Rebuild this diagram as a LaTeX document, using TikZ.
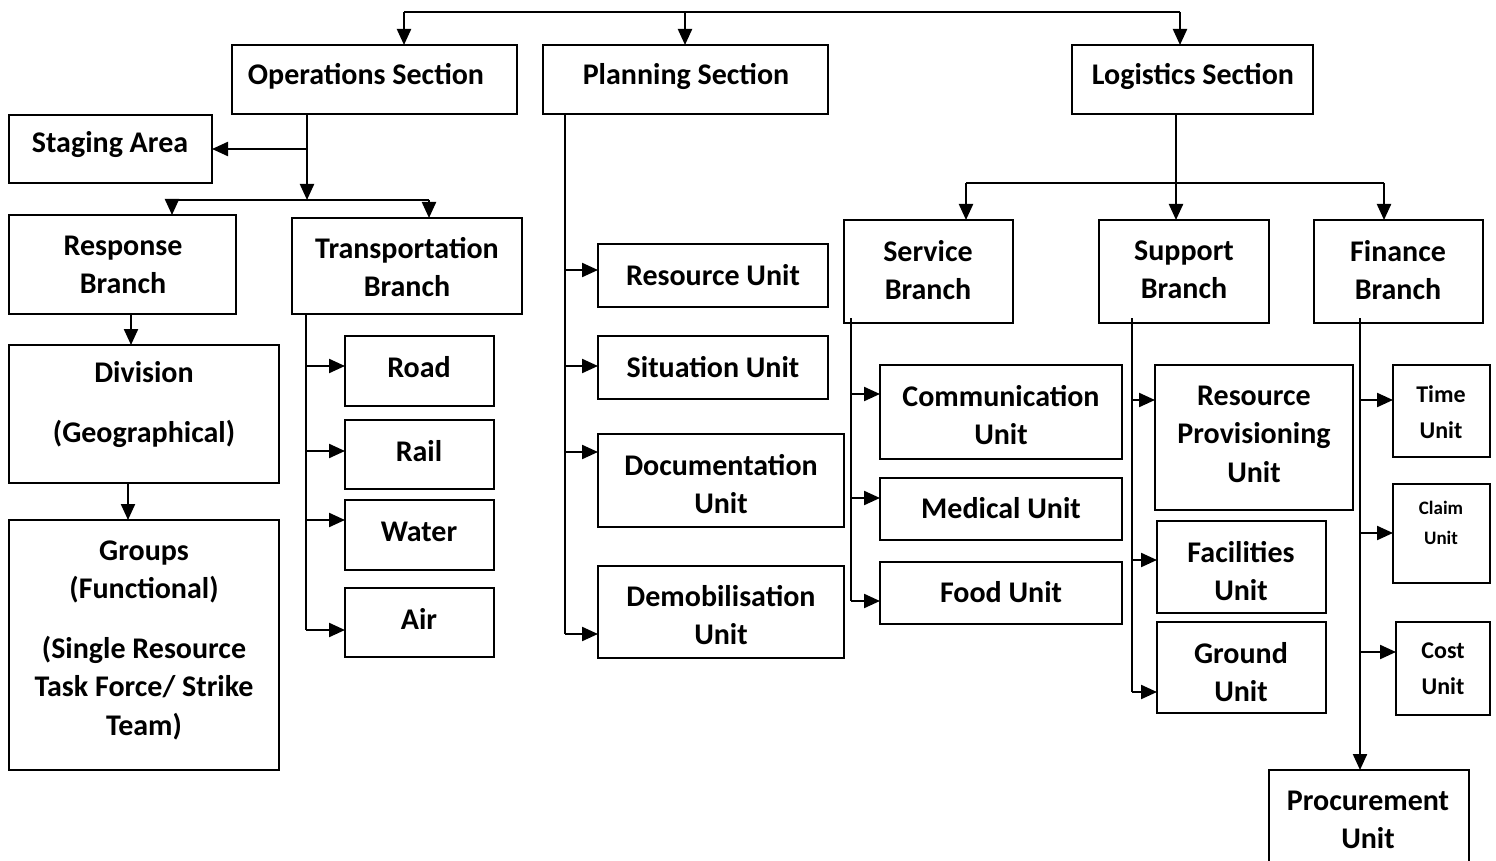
\documentclass[tikz,border=0pt]{standalone}
\usepackage{fontspec}
\setmainfont{Carlito}
\usetikzlibrary{arrows.meta}
\newcommand\fs{\fontsize{30}{38.5}\selectfont\bfseries}
\newcommand\bx[5]{\node[box, minimum width={(#4-#2)*1pt}, minimum height={(#5-#3)*1pt}] (#1) at ({(#2+#4)/2},{(#3+#5)/2}) {};}
\newcommand\tx[4]{\node[txt] (#1) at (#2,#3) {#4};}
\tikzset{
  box/.style={draw, line width=2.3pt, inner sep=0pt, outer sep=0pt},
  ln/.style={line width=2.2pt},
  arr/.style={line width=2.2pt, -{Triangle[length=16pt,width=14pt]}},
  txt/.style={font=\fs, align=center, inner sep=0pt}
}
\begin{document}
\begin{tikzpicture}[x=1pt,y=-1pt]
\useasboundingbox (0,0) rectangle (1496,861);
% boxes
\bx{ops}{232}{45}{517}{114}
\bx{plan}{543}{45}{828}{114}
\bx{log}{1072}{45}{1313}{114}
\bx{stg}{9}{115}{212}{183}
\bx{resp}{9}{215}{236}{314}
\bx{trans}{292}{218}{522}{314}
\bx{div}{9}{345}{279}{483}
\bx{grp}{9}{520}{279}{770}
\bx{road}{345}{336}{494}{406}
\bx{rail}{345}{420}{494}{489}
\bx{water}{345}{500}{494}{570}
\bx{air}{345}{588}{494}{657}
\bx{resu}{598}{244}{828}{307}
\bx{sitn}{598}{336}{828}{399}
\bx{docu}{598}{434}{844}{527}
\bx{demo}{598}{566}{844}{658}
\bx{serv}{844}{220}{1013}{323}
\bx{supp}{1099}{220}{1269}{323}
\bx{fin}{1314}{220}{1483}{323}
\bx{comm}{880}{365}{1122}{459}
\bx{med}{880}{478}{1122}{540}
\bx{food}{880}{562}{1122}{624}
\bx{rpu}{1155}{365}{1353}{510}
\bx{fac}{1157}{521}{1326}{613}
\bx{gnd}{1157}{622}{1326}{713}
\bx{time}{1393}{365}{1490}{457}
\bx{claim}{1393}{484}{1490}{583}
\bx{cost}{1396}{622}{1490}{715}
\bx{proc}{1269}{770}{1469}{866}
% texts
\tx{opsT}{366}{76}{Operations Section}
\tx{planT}{686}{76}{Planning Section}
\tx{logT}{1193}{76}{Logistics Section}
\tx{stgT}{110}{145}{Staging Area}
\tx{respT}{123}{265}{Response\\Branch}
\tx{transT}{407}{267}{Transportation\\Branch}
\tx{divT}{144}{405}{Division\\[21.5pt](Geographical)}
\tx{grpT}{144}{640}{Groups\\(Functional)\\[21pt](Single Resource\\Task Force/ Strike\\Team)}
\tx{roadT}{419}{367}{Road}
\tx{railT}{419}{451}{Rail}
\tx{waterT}{419}{532}{Water}
\tx{airT}{419}{619}{Air}
\tx{resuT}{713}{275}{Resource Unit}
\tx{sitnT}{713}{367}{Situation Unit}
\tx{docuT}{721}{484}{Documentation\\Unit}
\tx{demoT}{721}{615}{Demobilisation\\Unit}
\tx{servT}{928}{270}{Service\\Branch}
\tx{suppT}{1184}{270}{Support\\Branch}
\tx{finT}{1398}{270}{Finance\\Branch}
\tx{commT}{1001}{415}{Communication\\Unit}
\tx{medT}{1001}{508}{Medical Unit}
\tx{foodT}{1001}{592}{Food Unit}
\tx{rpuT}{1254}{434}{Resource\\Provisioning\\Unit}
\tx{facT}{1241}{571}{Facilities\\Unit}
\tx{gndT}{1241}{672}{Ground\\Unit}
\node[txt, font=\fontsize{24}{36}\selectfont\bfseries] (timeT) at (1441,412) {Time\\Unit};
\node[txt, font=\fontsize{19}{30}\selectfont\bfseries] (claimT) at (1441,523) {Claim\\Unit};
\node[txt, font=\fontsize{24}{36}\selectfont\bfseries] (costT) at (1443,669) {Cost\\Unit};
\tx{procT}{1368}{820}{Procurement\\Unit}
% top bus
\coordinate (t1) at (404,12);
\coordinate (t2) at (685,12);
\coordinate (t3) at (1180,12);
\draw[ln] (t1) -- (t3);
\draw[arr] (t1) -- (t1 |- ops.north);
\draw[arr] (t2) -- (t2 |- plan.north);
\draw[arr] (t3) -- (t3 |- log.north);
% operations
\coordinate (o1) at (307,200);
\draw[arr] (o1 |- ops.south) -- (o1);
\draw[arr] (o1 |- stg.east) -- (stg.east);
\coordinate (o2) at (172,200);
\coordinate (o3) at (429,200);
\draw[ln] (o2) -- (o3);
\draw[arr] (o2) -- (o2 |- resp.north);
\draw[arr] (o3) -- (o3 |- trans.north);
\coordinate (r1) at (131,0);
\draw[arr] (r1 |- resp.south) -- (r1 |- div.north);
\coordinate (r2) at (128,0);
\draw[arr] (r2 |- div.south) -- (r2 |- grp.north);
% transportation
\coordinate (tr) at (306,630);
\draw[ln] (tr |- trans.south) -- (tr);
\draw[arr] (306,366) -- (road.west |- 0,366);
\draw[arr] (306,451) -- (rail.west |- 0,451);
\draw[arr] (306,520) -- (water.west |- 0,520);
\draw[arr] (tr) -- (air.west |- tr);
% planning
\coordinate (pl) at (565,634);
\draw[ln] (pl |- plan.south) -- (pl);
\draw[arr] (565,270) -- (resu.west |- 0,270);
\draw[arr] (565,366) -- (sitn.west |- 0,366);
\draw[arr] (565,452) -- (docu.west |- 0,452);
\draw[arr] (pl) -- (demo.west |- pl);
% logistics
\coordinate (l1) at (1176,183);
\draw[arr] (l1 |- log.south) -- (l1 |- supp.north);
\coordinate (l2) at (966,183);
\coordinate (l3) at (1384,183);
\draw[ln] (l2) -- (l3);
\draw[arr] (l2) -- (l2 |- serv.north);
\draw[arr] (l3) -- (l3 |- fin.north);
% service
\coordinate (sv) at (851,601);
\draw[ln] ([yshift=5pt]sv |- serv.south) -- (sv);
\draw[arr] (851,394) -- (comm.west |- 0,394);
\draw[arr] (851,498) -- (med.west |- 0,498);
\draw[arr] (sv) -- (food.west |- sv);
% support
\coordinate (sp) at (1132,692);
\draw[ln] ([yshift=5pt]sp |- supp.south) -- (sp);
\draw[arr] (1132,400) -- (rpu.west |- 0,400);
\draw[arr] (1132,560) -- (fac.west |- 0,560);
\draw[arr] (sp) -- (gnd.west |- sp);
% finance
\coordinate (fn) at (1360,0);
\draw[arr] ([yshift=5pt]fn |- fin.south) -- (fn |- proc.north);
\draw[arr] (1360,400) -- (time.west |- 0,400);
\draw[arr] (1360,533) -- (claim.west |- 0,533);
\draw[arr] (1360,652) -- (cost.west |- 0,652);
\end{tikzpicture}
\end{document}
